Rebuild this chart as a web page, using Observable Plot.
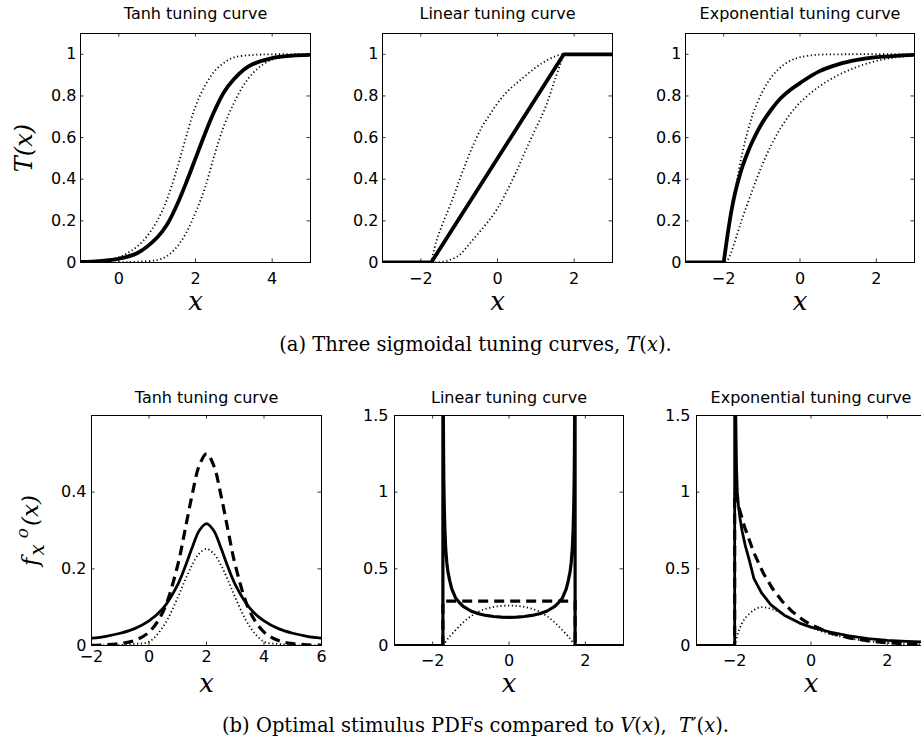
<!DOCTYPE html>
<html><head><meta charset="utf-8">
<script src="https://cdn.jsdelivr.net/npm/d3@7"></script>
<script src="https://cdn.jsdelivr.net/npm/@observablehq/plot@0.6"></script>
<style>
html,body{margin:0;padding:0;background:#fff;overflow:hidden;}
#root{position:relative;width:921px;height:749px;overflow:hidden;background:#fff;}
.cap{position:absolute;left:0;width:891px;padding-left:30px;text-align:center;font-family:"DejaVu Serif";font-size:19.5px;line-height:20px;color:#000;white-space:nowrap;}
.cap i{font-style:italic;}
svg text.lbl, svg text.lbl tspan{font-family:"DejaVu Serif",serif !important;font-style:italic !important;}
</style></head><body><div id="root"></div>
<script>
// ---------- tick values ----------
const yTicksTop = [0, 0.2, 0.4, 0.6, 0.8, 1];
const xTicksTanh = [0, 2, 4];
const xTicksSym = [-2, 0, 2];
const xTicksTanhPdf = [-2, 0, 2, 4, 6];
const yTicksTanhPdf = [0, 0.2, 0.4];
const yTicksPdf = [0, 0.5, 1, 1.5];

// ---------- (a) Tanh tuning curve ----------
const tanhX = [-1, -0.5, 0, 0.5, 1, 1.25, 1.5, 1.75, 2, 2.25, 2.5, 2.75, 3, 3.25, 3.5, 4, 4.5, 5];
const tanhT = [0.003, 0.007, 0.018, 0.047, 0.12, 0.18, 0.27, 0.38, 0.5, 0.62, 0.73, 0.82, 0.88, 0.925, 0.953, 0.982, 0.993, 0.997];
const tanhUpX = [-1, -0.5, 0, 0.25, 0.5, 0.75, 1, 1.25, 1.5, 1.75, 2, 2.25, 2.5, 2.75, 3, 3.5, 4, 5];
const tanhUpT = [0.004, 0.01, 0.025, 0.048, 0.08, 0.13, 0.2, 0.3, 0.44, 0.6, 0.75, 0.85, 0.92, 0.96, 0.985, 0.997, 1.0, 1.0];
const tanhLoX = [-1, 0, 0.5, 1, 1.25, 1.5, 1.75, 2, 2.25, 2.5, 2.75, 3, 3.25, 3.5, 3.75, 4, 4.5, 5];
const tanhLoT = [0, 0.001, 0.004, 0.012, 0.03, 0.072, 0.14, 0.24, 0.36, 0.52, 0.66, 0.765, 0.85, 0.91, 0.95, 0.975, 0.995, 1.0];

// ---------- (a) Linear tuning curve ----------
const linX = [-3, -1.73, 1.73, 3];
const linT = [0, 0, 1, 1];
const linUpX = [-1.73, -1.6, -1.4, -1.2, -1, -0.8, -0.6, -0.4, -0.2, 0, 0.25, 0.5, 0.75, 1, 1.25, 1.5, 1.73, 3];
const linUpT = [0, 0.1, 0.2, 0.29, 0.392, 0.49, 0.577, 0.653, 0.71, 0.765, 0.82, 0.862, 0.9, 0.937, 0.967, 0.99, 1.0, 1.0];
const linLoX = [-1.73, -1.5, -1.25, -1, -0.75, -0.5, -0.25, 0, 0.25, 0.5, 0.75, 1, 1.25, 1.5, 1.73];
const linLoT = [0, 0.002, 0.012, 0.035, 0.085, 0.14, 0.195, 0.26, 0.345, 0.44, 0.545, 0.645, 0.745, 0.88, 1.0];

// ---------- (a) Exponential tuning curve ----------
const expFlatX = [-3, -2];
const expFlatT = [0, 0];
const expX = [-2, -1.9, -1.8, -1.7, -1.6, -1.5, -1.4, -1.25, -1, -0.75, -0.5, -0.25, 0, 0.5, 1, 1.5, 2, 2.5, 3];
const expT = [0, 0.13, 0.245, 0.335, 0.405, 0.465, 0.515, 0.58, 0.668, 0.735, 0.79, 0.83, 0.862, 0.918, 0.952, 0.973, 0.986, 0.993, 0.997];
const expUpX = [-2, -1.9, -1.8, -1.7, -1.6, -1.5, -1.4, -1.3, -1.2, -1, -0.8, -0.6, -0.4, -0.2, 0, 0.4, 1, 3];
const expUpT = [0, 0.12, 0.235, 0.345, 0.445, 0.535, 0.61, 0.675, 0.73, 0.815, 0.878, 0.922, 0.953, 0.974, 0.986, 0.997, 1.0, 1.0];
const expLoX = [-1.95, -1.9, -1.8, -1.7, -1.6, -1.5, -1.25, -1, -0.75, -0.5, -0.25, 0, 0.5, 1, 1.5, 2, 2.5, 3];
const expLoT = [0, 0.01, 0.05, 0.105, 0.162, 0.218, 0.345, 0.465, 0.565, 0.648, 0.715, 0.768, 0.845, 0.9, 0.94, 0.968, 0.985, 0.995];

// ---------- (b) Tanh PDFs ----------
const tpX = [-2, -1.5, -1, -0.5, 0, 0.5, 1, 1.25, 1.5, 1.75, 2, 2.25, 2.5, 2.75, 3, 3.5, 4, 4.5, 5, 5.5, 6];
const tpOpt = [0.019, 0.024, 0.032, 0.044, 0.064, 0.098, 0.159, 0.204, 0.255, 0.3, 0.318, 0.3, 0.255, 0.204, 0.159, 0.098, 0.064, 0.044, 0.032, 0.024, 0.019];
const tpDer = [0.0007, 0.0018, 0.005, 0.013, 0.035, 0.09, 0.21, 0.3, 0.393, 0.47, 0.5, 0.47, 0.393, 0.3, 0.21, 0.09, 0.035, 0.013, 0.005, 0.0018, 0.0007];
const tpVar = [0.0001, 0.0003, 0.001, 0.004, 0.01, 0.05, 0.125, 0.17, 0.21, 0.24, 0.252, 0.24, 0.21, 0.17, 0.125, 0.05, 0.01, 0.004, 0.001, 0.0003, 0.0001];

// ---------- (b) Linear PDFs ----------
const lpOptX = [-3, -1.732, -1.732, -1.728, -1.724, -1.72, -1.714, -1.706, -1.695, -1.68, -1.66, -1.63, -1.6, -1.55, -1.5, -1.4, -1.3, -1.2, -1, -0.8, -0.6, -0.4, -0.2, 0,
                0.2, 0.4, 0.6, 0.8, 1, 1.2, 1.3, 1.4, 1.5, 1.55, 1.6, 1.63, 1.66, 1.68, 1.695, 1.706, 1.714, 1.72, 1.724, 1.728, 1.732, 1.732, 3];
const lpOpt = [0, 0, 3, 2.2, 1.75, 1.5, 1.25, 1.05, 0.9, 0.76, 0.64, 0.54, 0.48, 0.42, 0.37, 0.31, 0.28, 0.255, 0.225, 0.207, 0.196, 0.189, 0.185, 0.184,
               0.185, 0.189, 0.196, 0.207, 0.225, 0.255, 0.28, 0.31, 0.37, 0.42, 0.48, 0.54, 0.64, 0.76, 0.9, 1.05, 1.25, 1.5, 1.75, 2.2, 3, 0, 0];
const lpDerX = [-3, -1.732, -1.732, 1.732, 1.732, 3];
const lpDer = [0, 0, 0.289, 0.289, 0, 0];
const lpVarX = [-1.73, -1.6, -1.4, -1.2, -1, -0.8, -0.6, -0.4, -0.2, 0, 0.2, 0.4, 0.6, 0.8, 1, 1.2, 1.4, 1.6, 1.73];
const lpVar = [0, 0.045, 0.1, 0.15, 0.19, 0.22, 0.24, 0.252, 0.258, 0.26, 0.258, 0.252, 0.24, 0.22, 0.19, 0.15, 0.1, 0.045, 0];

// ---------- (b) Exponential PDFs ----------
const epOptX = [-3, -2, -2, -1.985, -1.97, -1.95, -1.93, -1.9, -1.86, -1.8, -1.72, -1.62, -1.5, -1.3, -1.05, -0.7, -0.3, 0, 0.5, 1, 1.5, 2, 2.5, 3];
const epOpt = [0, 0, 3, 2.0, 1.5, 1.15, 1.0, 0.91, 0.83, 0.74, 0.65, 0.56, 0.44, 0.345, 0.265, 0.198, 0.146, 0.12, 0.088, 0.063, 0.045, 0.034, 0.027, 0.022];
const epDerX = [-3, -2, -2, -1.75, -1.5, -1.25, -1, -0.75, -0.5, -0.25, 0, 0.5, 1, 1.5, 2, 2.5, 3];
const epDer = [0, 0, 1, 0.78, 0.607, 0.472, 0.368, 0.287, 0.223, 0.174, 0.135, 0.082, 0.05, 0.03, 0.018, 0.011, 0.007];
const epVarX = [-2, -1.9, -1.75, -1.5, -1.3, -1, -0.5, 0, 0.5, 1, 1.5, 2, 2.5, 3];
const epVar = [0, 0.09, 0.17, 0.23, 0.25, 0.235, 0.175, 0.117, 0.075, 0.047, 0.028, 0.017, 0.01, 0.006];

// ---------- helpers ----------
const root = document.getElementById("root");
const rows = (xs, ys) => xs.map((x, i) => ({x, y: ys[i]}));
const fmt = d => (d < 0 ? "\u2212" + (-d) : String(d));
const SERIF = "DejaVu Serif";
const SOLID_TOP = {w: 3.8};
const DOT = {w: 1.8, dash: "1.2,2.6"};

function makePanel(c) {
  const mL = 80, mR = 20, mT = 45, mB = 70;
  const tx = (c.xd[1] - c.xd[0]) * 3.5 / c.fw;
  const ty = (c.yd[1] - c.yd[0]) * 3.5 / c.fh;
  const marks = [];
  for (const s of c.series) {
    marks.push(Plot.line(rows(s.x, s.y), {
      x: "x", y: "y", stroke: "black", strokeWidth: s.w,
      strokeDasharray: s.dash, curve: s.curve || "linear", clip: true,
      strokeLinejoin: "round", strokeLinecap: "butt"
    }));
  }
  marks.push(Plot.frame({stroke: "black", strokeWidth: 1}));
  marks.push(Plot.ruleX(c.xt, {x: d => d, y1: () => c.yd[0], y2: () => c.yd[0] + ty, stroke: "black", strokeWidth: 0.8}));
  marks.push(Plot.ruleX(c.xt, {x: d => d, y1: () => c.yd[1], y2: () => c.yd[1] - ty, stroke: "black", strokeWidth: 0.8}));
  marks.push(Plot.ruleY(c.yt, {y: d => d, x1: () => c.xd[0], x2: () => c.xd[0] + tx, stroke: "black", strokeWidth: 0.8}));
  marks.push(Plot.ruleY(c.yt, {y: d => d, x1: () => c.xd[1], x2: () => c.xd[1] - tx, stroke: "black", strokeWidth: 0.8}));
  marks.push(Plot.axisX(c.xt, {anchor: "bottom", tickSize: 0, tickPadding: c.xPad, tickFormat: fmt, label: null}));
  marks.push(Plot.axisY(c.yt, {anchor: "left", tickSize: 0, tickPadding: c.yPad, tickFormat: fmt, label: null}));
  marks.push(Plot.text([c.title], {frameAnchor: "top", dy: c.titleDy, text: d => d, fontSize: 16}));
  marks.push(Plot.text(["x"], {frameAnchor: "bottom", dy: c.xLabDy, text: d => d, fontSize: 26,
    fontFamily: SERIF, fontStyle: "italic"}));
  if (c.yLabel) {
    marks.push(Plot.text([c.yLabel], {frameAnchor: "left", textAnchor: "middle", dx: c.yLabelDx, rotate: -90, text: d => d,
      fontSize: c.yLabelSize, fontFamily: SERIF, fontStyle: "italic"}));
  }
  const svg = Plot.plot({
    width: c.fw + mL + mR, height: c.fh + mT + mB,
    marginLeft: mL, marginRight: mR, marginTop: mT, marginBottom: mB,
    x: {domain: c.xd, label: null},
    y: {domain: c.yd, label: null},
    style: {fontSize: "16px", background: "transparent", overflow: "visible", color: "black"},
    marks
  });
  d3.select(svg).selectAll("text").each(function () {
    const txt = this.textContent;
    if (["x", "T(x)", "FXO"].includes(txt)) {
      this.setAttribute("class", "lbl");
      this.setAttribute("font-family", SERIF);
      this.setAttribute("font-style", "italic");
      if (txt === "FXO") {
        const t = d3.select(this);
        t.text("");
        t.append("tspan").text("f");
        t.append("tspan").attr("dy", "6px").attr("dx", "2px").style("font-size", "20px").text("x");
        t.append("tspan").attr("dy", "-16px").attr("dx", "6px").style("font-size", "17px").text("o");
        t.append("tspan").attr("dy", "10px").attr("dx", "2px").text("(x)");
      }
    } else {
      this.style.setProperty("font-family", "'DejaVu Sans', sans-serif");
    }
  });
  svg.style.position = "absolute";
  svg.style.left = (c.fl - mL) + "px";
  svg.style.top = (c.ft - mT) + "px";
  root.appendChild(svg);
}

// ---------- row (a) ----------
makePanel({fl: 80, ft: 33, fw: 230, fh: 229, xd: [-1, 5], yd: [0, 1.1], xt: xTicksTanh, yt: yTicksTop,
  xPad: 10, yPad: 4, title: "Tanh tuning curve", titleDy: -26, xLabDy: 47, yLabel: "T(x)", yLabelDx: -56, yLabelSize: 24,
  series: [
    {x: tanhUpX, y: tanhUpT, ...DOT, curve: "catmull-rom"},
    {x: tanhLoX, y: tanhLoT, ...DOT, curve: "catmull-rom"},
    {x: tanhX, y: tanhT, ...SOLID_TOP, curve: "catmull-rom"}
  ]});
makePanel({fl: 382, ft: 33, fw: 230, fh: 229, xd: [-3, 3], yd: [0, 1.1], xt: xTicksSym, yt: yTicksTop,
  xPad: 10, yPad: 4, title: "Linear tuning curve", titleDy: -26, xLabDy: 47,
  series: [
    {x: linUpX, y: linUpT, ...DOT, curve: "catmull-rom"},
    {x: linLoX, y: linLoT, ...DOT, curve: "catmull-rom"},
    {x: linX, y: linT, ...SOLID_TOP}
  ]});
makePanel({fl: 685, ft: 33, fw: 229, fh: 229, xd: [-3, 3], yd: [0, 1.1], xt: xTicksSym, yt: yTicksTop,
  xPad: 10, yPad: 4, title: "Exponential tuning curve", titleDy: -26, xLabDy: 47,
  series: [
    {x: expUpX, y: expUpT, ...DOT, curve: "catmull-rom"},
    {x: expLoX, y: expLoT, ...DOT, curve: "catmull-rom"},
    {x: expFlatX, y: expFlatT, ...SOLID_TOP},
    {x: expX, y: expT, ...SOLID_TOP, curve: "catmull-rom"}
  ]});

// ---------- row (b) ----------
const SOLID_B = {w: 2.8};
const DASH_B = {w: 3.2, dash: "10,6"};
makePanel({fl: 91, ft: 415, fw: 230, fh: 230, xd: [-2, 6], yd: [0, 0.6], xt: xTicksTanhPdf, yt: yTicksTanhPdf,
  xPad: 5, yPad: 5, title: "Tanh tuning curve", titleDy: -24, xLabDy: 46, yLabel: "FXO", yLabelDx: -61, yLabelSize: 23,
  series: [
    {x: tpX, y: tpVar, ...DOT, curve: "catmull-rom"},
    {x: tpX, y: tpDer, ...DASH_B, curve: "catmull-rom"},
    {x: tpX, y: tpOpt, ...SOLID_B, curve: "catmull-rom"}
  ]});
makePanel({fl: 394, ft: 415, fw: 229, fh: 230, xd: [-3, 3], yd: [0, 1.5], xt: xTicksSym, yt: yTicksPdf,
  xPad: 9, yPad: 6, title: "Linear tuning curve", titleDy: -24, xLabDy: 46,
  series: [
    {x: lpVarX, y: lpVar, ...DOT, curve: "catmull-rom"},
    {x: lpDerX, y: lpDer, ...DASH_B},
    {x: lpOptX, y: lpOpt, w: 3.2}
  ]});
makePanel({fl: 696, ft: 415, fw: 229, fh: 230, xd: [-3, 3], yd: [0, 1.5], xt: xTicksSym, yt: yTicksPdf,
  xPad: 9, yPad: 6, title: "Exponential tuning curve", titleDy: -24, xLabDy: 46,
  series: [
    {x: epVarX, y: epVar, ...DOT, curve: "catmull-rom"},
    {x: epDerX, y: epDer, ...DASH_B},
    {x: epOptX, y: epOpt, ...SOLID_B}
  ]});

// ---------- captions ----------
const capA = document.createElement("div");
capA.className = "cap";
capA.style.top = "335px";
capA.innerHTML = "(a) Three sigmoidal tuning curves, <i>T</i>(<i>x</i>).";
root.appendChild(capA);
const capB = document.createElement("div");
capB.className = "cap";
capB.style.top = "716px";
capB.innerHTML = "(b) Optimal stimulus PDFs compared to <i>V</i>(<i>x</i>), &nbsp;<i>T</i>\u2032(<i>x</i>).";
root.appendChild(capB);
</script></body></html>
